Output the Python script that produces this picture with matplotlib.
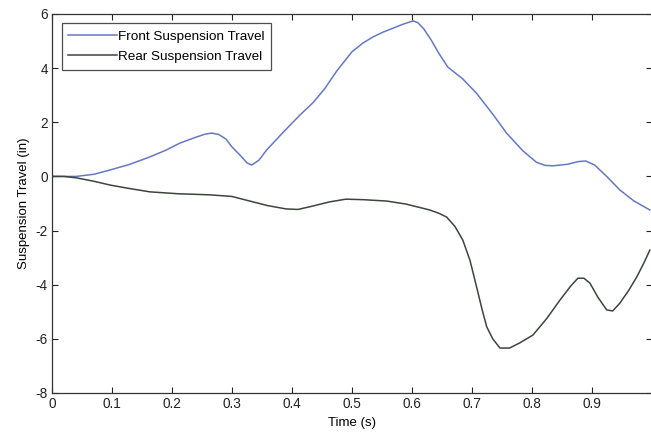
import matplotlib
matplotlib.use("Agg")
import matplotlib.pyplot as plt

front_t = [0.0, 0.02, 0.04, 0.07, 0.097, 0.13, 0.163, 0.19, 0.213, 0.24, 0.255, 0.266, 0.278,
           0.29, 0.30, 0.315, 0.325, 0.333, 0.345, 0.358, 0.385, 0.413, 0.435, 0.455, 0.475,
           0.50, 0.518, 0.535, 0.552, 0.568, 0.585, 0.597, 0.603, 0.61, 0.62, 0.632, 0.645,
           0.66, 0.685, 0.708, 0.735, 0.758, 0.785, 0.808, 0.822, 0.835, 0.86, 0.878, 0.89,
           0.905, 0.925, 0.947, 0.97, 0.997]
front_v = [0.0, 0.0, 0.0, 0.08, 0.24, 0.45, 0.72, 0.97, 1.23, 1.45, 1.56, 1.6, 1.55,
           1.38, 1.09, 0.75, 0.5, 0.42, 0.6, 0.98, 1.62, 2.26, 2.72, 3.25, 3.9,
           4.6, 4.92, 5.15, 5.33, 5.47, 5.62, 5.71, 5.74, 5.68, 5.45, 5.05, 4.55,
           4.04, 3.6, 3.07, 2.3, 1.6, 0.95, 0.52, 0.41, 0.39, 0.45, 0.55, 0.57,
           0.42, 0.0, -0.5, -0.9, -1.24]

rear_t = [0.0, 0.02, 0.04, 0.07, 0.097, 0.13, 0.163, 0.21, 0.263, 0.30, 0.335, 0.36, 0.39,
          0.41, 0.43, 0.463, 0.49, 0.52, 0.558, 0.59, 0.63, 0.645, 0.658, 0.672, 0.685,
          0.697, 0.708, 0.717, 0.725, 0.735, 0.747, 0.763, 0.78, 0.802, 0.825, 0.847, 0.865,
          0.877, 0.887, 0.897, 0.91, 0.925, 0.935, 0.947, 0.962, 0.975, 0.987, 0.997]
rear_v = [0.0, 0.0, -0.05, -0.18, -0.32, -0.45, -0.57, -0.64, -0.68, -0.74, -0.94, -1.08, -1.2,
          -1.22, -1.12, -0.94, -0.84, -0.86, -0.91, -1.02, -1.24, -1.36, -1.5, -1.85, -2.35,
          -3.1, -4.08, -4.9, -5.56, -6.0, -6.34, -6.34, -6.15, -5.86, -5.25, -4.57, -4.05,
          -3.76, -3.76, -3.94, -4.45, -4.93, -4.97, -4.68, -4.2, -3.72, -3.2, -2.72]

xticks = [0, 0.1, 0.2, 0.3, 0.4, 0.5, 0.6, 0.7, 0.8, 0.9]
xticklabels = ["0", "0.1", "0.2", "0.3", "0.4", "0.5", "0.6", "0.7", "0.8", "0.9"]
yticks = [-8, -6, -4, -2, 0, 2, 4, 6]
yticklabels = ["-8", "-6", "-4", "-2", "0", "2", "4", "6"]

plt.rcParams['font.family'] = ['Liberation Sans', 'DejaVu Sans']
plt.rcParams['axes.unicode_minus'] = False

fig = plt.figure(figsize=(6.51, 4.32), dpi=100)
ax = fig.add_axes([0.080, 0.0903, 0.921, 0.8773])

ax.plot(front_t, front_v, color='#6478c4', lw=1.1, label='Front Suspension Travel')
ax.plot(rear_t, rear_v, color='#3b463b', lw=1.1, label='Rear Suspension Travel')

ax.set_xlim(0, 1)
ax.set_ylim(-8, 6)
ax.set_xticks(xticks)
ax.set_xticklabels(xticklabels)
ax.set_yticks(yticks)
ax.set_yticklabels(yticklabels)
ax.tick_params(direction='in', top=True, right=True, length=4, labelsize=9.8, pad=3, colors='#222222')
for s in ax.spines.values():
    s.set_color('#333333')
    s.set_linewidth(0.9)

ax.set_xlabel('Time (s)', fontsize=9.5, labelpad=4)
ax.set_ylabel('Suspension Travel (in)', fontsize=9.5, labelpad=4)

leg = ax.legend(loc='upper left', fontsize=9.7, frameon=True, fancybox=False,
                edgecolor='#222222', borderaxespad=0.7, handlelength=3.6,
                handletextpad=0.1, borderpad=0.5, labelspacing=0.6)
leg.get_frame().set_linewidth(0.9)

fig.savefig('out.png', dpi=100)
